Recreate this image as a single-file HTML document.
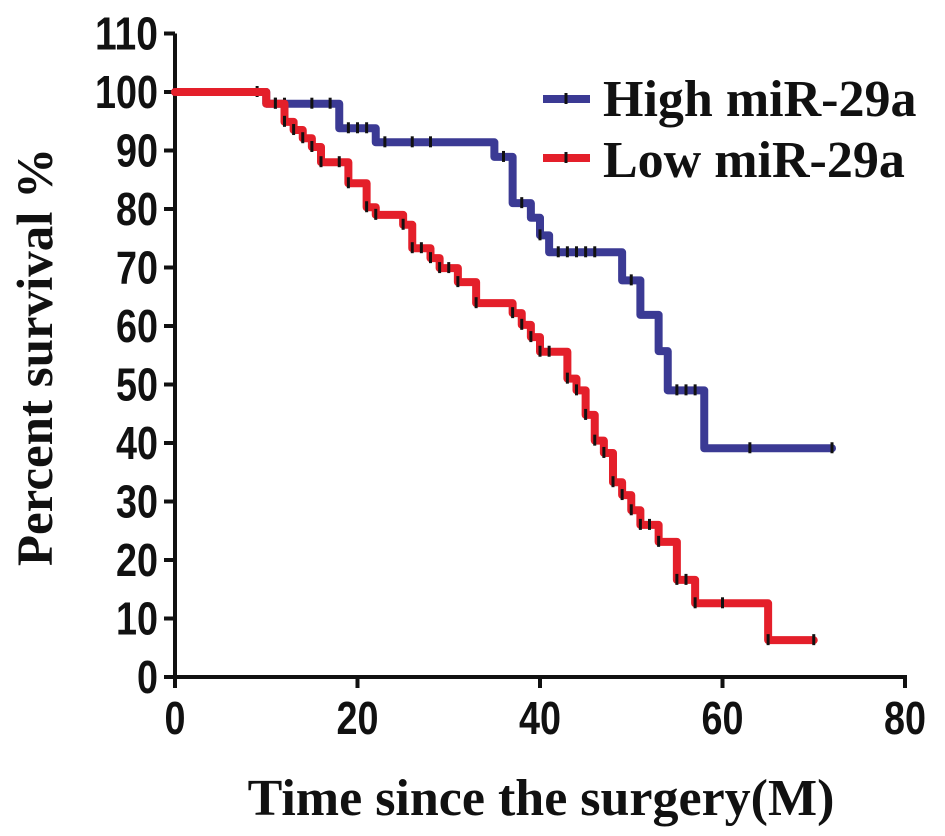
<!DOCTYPE html>
<html><head><meta charset="utf-8"><style>
html,body{margin:0;padding:0;background:#fff;}
svg{display:block;}
.tk{font-family:"Liberation Sans",sans-serif;font-weight:bold;font-size:46px;fill:#111;}
.tt{font-family:"Liberation Serif",serif;font-weight:bold;fill:#111;}
</style></head><body>
<svg id="chart" width="945" height="836" viewBox="0 0 945 836">
<g id="axes"></g>
<g id="series"></g>
<g>
<g>
<line x1="543" y1="99" x2="590" y2="99" stroke="#3b3a94" stroke-width="8"/>
<line x1="566" y1="93" x2="566" y2="104" stroke="#111" stroke-width="3"/>
<text class="tt" x="603" y="116" font-size="52">High miR-29a</text>
</g>
<g>
<line x1="543" y1="158" x2="590" y2="158" stroke="#e41f2a" stroke-width="8"/>
<line x1="566" y1="152" x2="566" y2="163" stroke="#111" stroke-width="3"/>
<text class="tt" x="603" y="177" font-size="52">Low miR-29a</text>
</g>
</g>
<text class="tt" x="541" y="815" font-size="52" text-anchor="middle">Time since the surgery(M)</text>
<text class="tt" transform="translate(52,357) rotate(-90)" font-size="51" text-anchor="middle">Percent survival %</text>
</svg>
<script>
const xTicks=[0,20,40,60,80];
const yTicks=[0,10,20,30,40,50,60,70,80,90,100,110];
const highTimes=[0,10,18,22,35,37,39,40,41,49,51,53,54,58,72];
const highSurv=[100,98,93.8,91.4,88.9,81,78.5,75.5,72.6,67.8,61.9,55.7,49,39.1,39.1];
const highCensor=[9,11,12,15,17,19,20,21,23,26,28,36,38,40,42,43,44,45,46,50,55,56,57,63,72];
const lowTimes=[0,10,12,13,14,15,16,19,21,22,25,26,28,29,31,33,37,38,39,40,43,44,45,46,47,48,49,50,51,53,55,57,65,70];
const lowSurv=[100,98,94.9,93.5,92.1,90.6,88,84.4,80.3,79,77.3,73.3,71.6,69.9,67.5,63.9,62.2,60.2,58.1,55.6,51,49,44.8,40.4,38.3,33.3,31.1,28.5,26,23.1,16.6,12.6,6.3,6.3];
const lowCensor=[11,12,13,14,15,16,18,19,21,22,25,26,27,28,29,30,31,33,37,38,39,40,41,43,44,45,46,47,48,49,50,51,52,53,55,56,57,60,65,70];

const X=v=>175+v*9.125;
const Y=v=>677-v*5.85;
const NS='http://www.w3.org/2000/svg';
function mk(tag,attrs,parent){const e=document.createElementNS(NS,tag);for(const k in attrs)e.setAttribute(k,attrs[k]);parent.appendChild(e);return e;}
const axes=document.getElementById('axes');
const xa=mk('line',{x1:X(0),y1:Y(0),x2:X(80)+2,y2:Y(0),stroke:'#111','stroke-width':4},axes);


const ya=mk('line',{x1:X(0),y1:Y(0)+2,x2:X(0),y2:Y(110),stroke:'#111','stroke-width':4},axes);


xTicks.forEach(t=>{
  const l=mk('line',{x1:X(t),y1:Y(0),x2:X(t),y2:Y(0)+11,stroke:'#111','stroke-width':4},axes);
  
  
  const s=String(t);
  const tx=mk('text',{x:X(t),y:Y(0)+57,'text-anchor':'middle',class:'tk',textLength:s.length*21,lengthAdjust:'spacingAndGlyphs'},axes);
  tx.textContent=s;
  
  
});
yTicks.forEach(t=>{
  const l=mk('line',{x1:X(0)-11,y1:Y(t),x2:X(0),y2:Y(t),stroke:'#111','stroke-width':4},axes);
  
  
  const s=String(t);
  const tx=mk('text',{x:158,y:Y(t)+16,'text-anchor':'end',class:'tk',textLength:s.length*21,lengthAdjust:'spacingAndGlyphs'},axes);
  tx.textContent=s;
  
  
});
const series=document.getElementById('series');
function survAt(times,surv,t){let s=surv[0];for(let i=0;i<times.length;i++){if(times[i]<=t)s=surv[i];}return s;}
function draw(times,surv,censor,color,name){
  let d='M'+X(times[0])+','+Y(surv[0]);
  for(let i=1;i<times.length;i++){d+=' H'+X(times[i])+' V'+Y(surv[i]);}
  const p=mk('path',{d:d,fill:'none',stroke:color,'stroke-width':8,'stroke-linejoin':'round','stroke-linecap':'round'},series);
  
  
  censor.forEach(c=>{
    const s=survAt(times,surv,c);
    const l=mk('line',{x1:X(c),y1:Y(s)-6,x2:X(c),y2:Y(s)+5,stroke:'#111','stroke-width':3},series);
    
    
  });
}
draw(highTimes,highSurv,highCensor,'#3b3a94','high-mir29a');
draw(lowTimes,lowSurv,lowCensor,'#e41f2a','low-mir29a');
</script>
</body></html>
